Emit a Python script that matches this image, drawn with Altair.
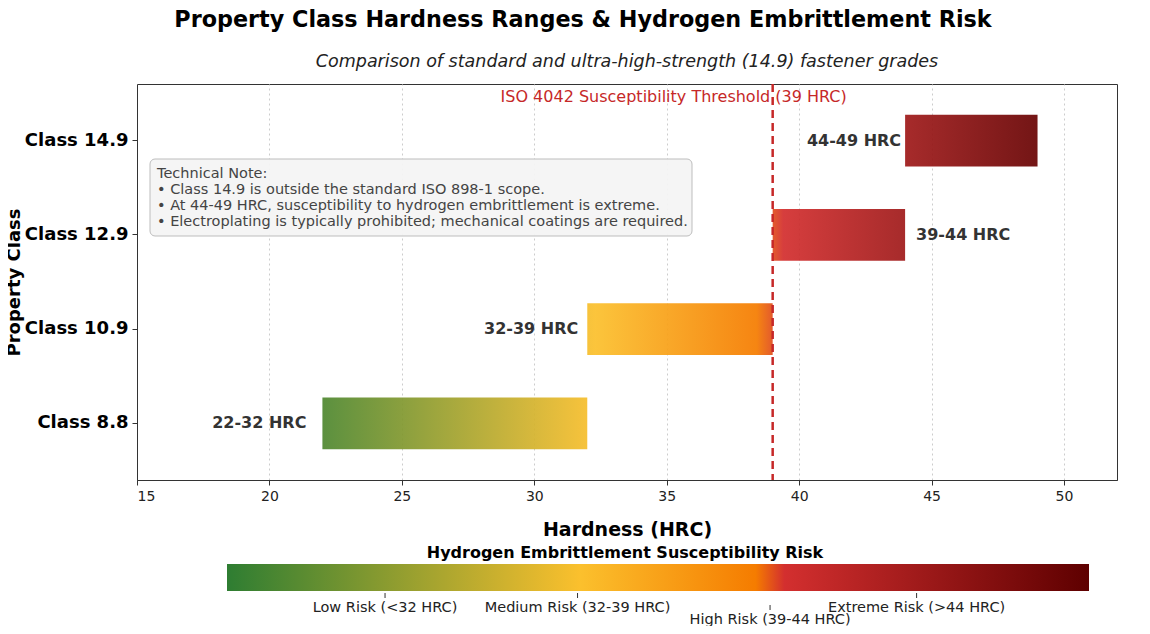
import altair as alt
import pandas as pd

# ---------------- data ----------------
classes = ["Class 14.9", "Class 12.9", "Class 10.9", "Class 8.8"]
hrc_min = [44, 39, 32, 22]
hrc_max = [49, 44, 39, 32]
range_labels = ["44-49 HRC", "39-44 HRC", "32-39 HRC", "22-32 HRC"]
label_side = ["left", "right", "left", "left"]

threshold = [39]
threshold_text = "ISO 4042 Susceptibility Threshold (39 HRC)"

# risk colour map: hardness anchor -> colour
cmap_hrc = [20, 32.3, 38.4, 39.4, 50]
cmap_colors = ["#2e7d32", "#fbc02d", "#f57c00", "#d32f2f", "#5e0000"]

cbar_ticks = [25.5, 32.2, 38.9, 44.0]
cbar_labels = ["Low Risk (<32 HRC)", "Medium Risk (32-39 HRC)",
               "High Risk (39-44 HRC)", "Extreme Risk (>44 HRC)"]
cbar_row = [0, 0, 1, 0]
cbar_span = [20, 50]
cbar_title = "Hydrogen Embrittlement Susceptibility Risk"

note_lines = [
    "Technical Note:",
    "\u2022 Class 14.9 is outside the standard ISO 898-1 scope.",
    "\u2022 At 44-49 HRC, susceptibility to hydrogen embrittlement is extreme.",
    "\u2022 Electroplating is typically prohibited; mechanical coatings are required.",
]

title_text = "Property Class Hardness Ranges & Hydrogen Embrittlement Risk"
subtitle_text = "Comparison of standard and ultra-high-strength (14.9) fastener grades"

# ---------------- styling helpers ----------------
FONT = "DejaVu Sans"
label_dx = [-4, 11, -9, -16]


def hex2rgb(h):
    return [int(h[i:i + 2], 16) for i in (1, 3, 5)]


def color_at(v):
    if v <= cmap_hrc[0]:
        return cmap_colors[0]
    for i in range(len(cmap_hrc) - 1):
        a, b = cmap_hrc[i], cmap_hrc[i + 1]
        if v <= b:
            t = (v - a) / (b - a)
            c0, c1 = hex2rgb(cmap_colors[i]), hex2rgb(cmap_colors[i + 1])
            return "#%02x%02x%02x" % tuple(int(round(c0[k] + (c1[k] - c0[k]) * t)) for k in range(3))
    return cmap_colors[-1]


def gradient_for(a, b):
    pts = [a] + [h for h in cmap_hrc if a < h < b] + [b]
    stops = [alt.GradientStop(offset=(p - a) / (b - a), color=color_at(p)) for p in pts]
    return alt.Gradient(gradient="linear", stops=stops, x1=0, x2=1, y1=0, y2=0)


xscale = alt.Scale(domain=[15, 52], nice=False, zero=False)
xaxis = alt.Axis(values=[15, 20, 25, 30, 35, 40, 45, 50], grid=True, gridDash=[2, 3],
                 gridColor="#cccccc", tickSize=5, labelFontSize=14, labelColor="#222222",
                 labelPadding=4, titleFontSize=19, titleFontWeight="bold",
                 titlePadding=17, titleColor="black")
yscale = alt.Scale(domain=classes, paddingInner=0.45, paddingOuter=0.325)
yaxis = alt.Axis(labelFontSize=18, labelFontWeight="bold", labelColor="black", tickSize=5,
                 labelPadding=4, grid=False, titleFontSize=18, titleFontWeight="bold",
                 titleColor="black", titleAngle=-90, titleX=-118, titleY=198,
                 titleAlign="center", titleBaseline="alphabetic")


def X(field):
    return alt.X(field, scale=xscale, axis=xaxis, title="Hardness (HRC)")


def Y():
    return alt.Y("cls:N", sort=classes, scale=yscale, axis=yaxis, title="Property Class")


df = pd.DataFrame({"cls": classes, "lo": hrc_min, "hi": hrc_max,
                   "lab": range_labels, "side": label_side})

main_layers = []
for i in range(len(classes)):
    row = df.iloc[[i]]
    main_layers.append(
        alt.Chart(row).mark_bar(color=gradient_for(hrc_min[i], hrc_max[i]), opacity=0.93)
        .encode(x=X("lo:Q"), x2="hi:Q", y=Y())
    )
for i in range(len(classes)):
    row = df.iloc[[i]]
    if label_side[i] == "left":
        main_layers.append(
            alt.Chart(row).mark_text(align="right", baseline="middle", dx=label_dx[i],
                                     fontSize=16, fontWeight="bold", color="#333333", font=FONT)
            .encode(x=X("lo:Q"), y=Y(), text="lab:N")
        )
    else:
        main_layers.append(
            alt.Chart(row).mark_text(align="left", baseline="middle", dx=label_dx[i],
                                     fontSize=16, fontWeight="bold", color="#333333", font=FONT)
            .encode(x=X("hi:Q"), y=Y(), text="lab:N")
        )

thr_df = pd.DataFrame({"t": threshold, "txt": [threshold_text]})
main_layers.append(
    alt.Chart(thr_df).mark_rule(color="#c62828", strokeDash=[8, 5], strokeWidth=2.5)
    .encode(x=X("t:Q"))
)
main_layers.append(
    alt.Chart(thr_df).mark_text(align="center", baseline="middle", dx=-99, fontSize=16,
                                color="#c62828", font=FONT)
    .encode(x=X("t:Q"), y=alt.value(13), text="txt:N")
)

one = pd.DataFrame({"k": [0]})
main_layers.append(
    alt.Chart(one).mark_rect(fill="#f5f5f5", stroke="#bbbbbb", strokeWidth=1,
                             cornerRadius=5, opacity=0.95)
    .encode(x=alt.value(13), x2=alt.value(555), y=alt.value(75), y2=alt.value(152))
)
main_layers.append(
    alt.Chart(one).mark_text(text=note_lines, align="left", baseline="top", lineHeight=16,
                             fontSize=14.5, color="#444444", font=FONT)
    .encode(x=alt.value(20), y=alt.value(82.5))
)
main_layers.append(
    alt.Chart(one).mark_text(text=subtitle_text, align="center", baseline="middle",
                             fontSize=17.5, fontStyle="italic", color="#222222", font=FONT)
    .encode(x=alt.value(490), y=alt.value(-22))
)

main = alt.layer(*main_layers)

# ---------------- colour bar ----------------
cbx = alt.Scale(domain=cbar_span, range=[90, 952], nice=False, zero=False)
cb_df = pd.DataFrame({"lo": [cbar_span[0]], "hi": [cbar_span[1]], "ttl": [cbar_title]})
tk_df = pd.DataFrame({"v": cbar_ticks, "lab": cbar_labels, "row": cbar_row})

cb_layers = [
    alt.Chart(cb_df).mark_rect(color=gradient_for(cbar_span[0], cbar_span[1]))
    .encode(x=alt.X("lo:Q", scale=cbx, axis=None), x2="hi:Q",
            y=alt.value(480), y2=alt.value(507)),
    alt.Chart(cb_df).mark_text(align="center", baseline="middle", fontSize=16,
                               fontWeight="bold", color="black", font=FONT)
    .encode(x=alt.value(488), y=alt.value(469), text="ttl:N"),
    alt.Chart(tk_df).transform_filter("datum.row == 0").mark_rule(color="#333333", strokeWidth=1)
    .encode(x=alt.X("v:Q", scale=cbx, axis=None), y=alt.value(509), y2=alt.value(514)),
    alt.Chart(tk_df).transform_filter("datum.row == 1").mark_rule(color="#333333", strokeWidth=1)
    .encode(x=alt.X("v:Q", scale=cbx, axis=None), y=alt.value(521), y2=alt.value(526)),
    alt.Chart(tk_df).transform_filter("datum.row == 0")
    .mark_text(align="center", baseline="middle", fontSize=14.5, color="#222222", font=FONT)
    .encode(x=alt.X("v:Q", scale=cbx, axis=None), y=alt.value(524), text="lab:N"),
    alt.Chart(tk_df).transform_filter("datum.row == 1")
    .mark_text(align="center", baseline="middle", fontSize=14.5, color="#222222", font=FONT)
    .encode(x=alt.X("v:Q", scale=cbx, axis=None), y=alt.value(536), text="lab:N"),
]
cbar = alt.layer(*cb_layers)

chart = (
    alt.layer(main, cbar)
    .resolve_scale(x="independent")
    .properties(
        width=980, height=396, autosize="none",
        padding={"left": 129, "top": 76, "right": 25, "bottom": 146},
        title=alt.TitleParams(text=title_text, fontSize=22.3, fontWeight="bold", font=FONT,
                              color="black", anchor="middle", dx=-44, offset=4,
                              baseline="alphabetic"),
    )
    .configure(font=FONT)
    .configure_view(stroke="#333333", strokeWidth=1)
    .configure_axis(domainColor="#333333", tickColor="#333333", labelFont=FONT, titleFont=FONT)
)

chart.save("out.html", embed_options={"renderer": "svg", "actions": False})
